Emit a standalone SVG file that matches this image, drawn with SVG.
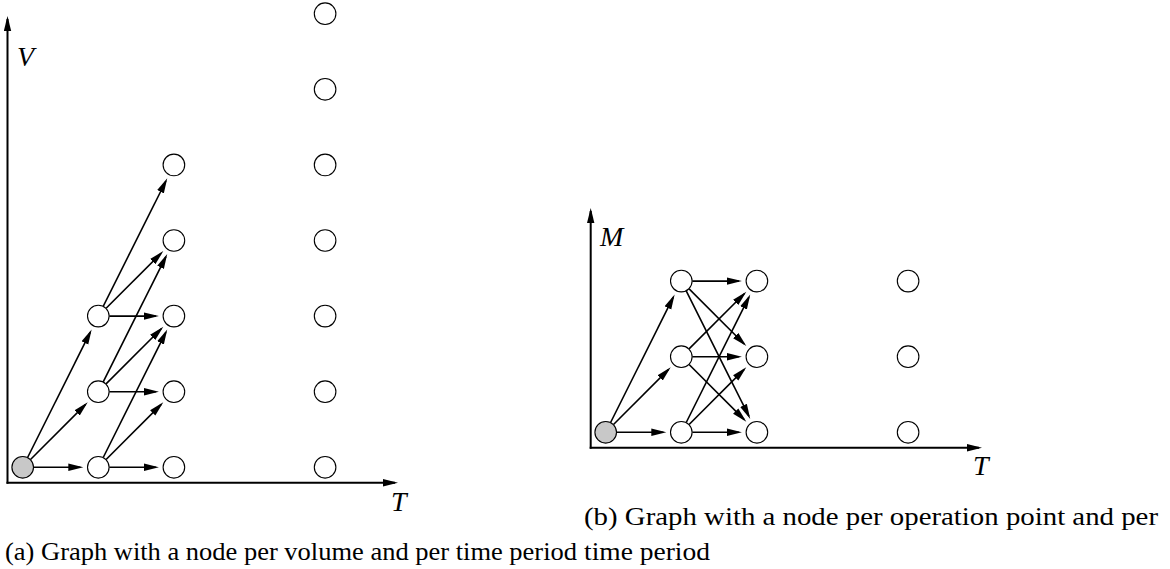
<svg xmlns="http://www.w3.org/2000/svg" width="1170" height="569" viewBox="0 0 1170 569">
<defs>
<style>
.n{fill:#fff;stroke:#000;stroke-width:1.1}
.s{fill:#c8c8c8;stroke:#000;stroke-width:1.1}
.e{stroke:#000;stroke-width:1.6;fill:none;marker-end:url(#ah)}
.axa{stroke:#000;stroke-width:2;fill:none;marker-end:url(#ah)}
</style>
<marker id="ah" markerUnits="userSpaceOnUse" markerWidth="16" markerHeight="8" refX="12" refY="4" orient="auto" viewBox="0 0 16 8">
<path d="M0,0.3 L15,4 L0,7.7 z" fill="#000"/>
</marker>
</defs>
<rect width="1170" height="569" fill="#fff"/>

<g id="axes">
<line class="axa" x1="7.5" y1="483.7" x2="7.5" y2="19"/>
<line class="axa" x1="6.5" y1="482.7" x2="395" y2="482.7"/>
<line class="axa" x1="590.7" y1="448.7" x2="590.7" y2="211"/>
<line class="axa" x1="589.7" y1="447.7" x2="979" y2="447.7"/>
</g>

<g id="connectors">
<line class="e" x1="33.7" y1="467.3" x2="80.3" y2="467.3"/>
<line class="e" x1="30.5" y1="459.5" x2="85.6" y2="404.4"/>
<line class="e" x1="27.6" y1="457.5" x2="90.3" y2="332.2"/>
<line class="e" x1="109.3" y1="467.3" x2="155.9" y2="467.3"/>
<line class="e" x1="106.1" y1="459.5" x2="161.2" y2="404.4"/>
<line class="e" x1="103.2" y1="457.5" x2="165.9" y2="332.2"/>
<line class="e" x1="109.3" y1="391.7" x2="155.9" y2="391.7"/>
<line class="e" x1="106.1" y1="383.9" x2="161.2" y2="328.8"/>
<line class="e" x1="103.2" y1="381.9" x2="165.9" y2="256.6"/>
<line class="e" x1="109.3" y1="316.1" x2="155.9" y2="316.1"/>
<line class="e" x1="106.1" y1="308.3" x2="161.2" y2="253.2"/>
<line class="e" x1="103.2" y1="306.3" x2="165.9" y2="181.0"/>

<line class="e" x1="616.7" y1="432.3" x2="663.3" y2="432.3"/>
<line class="e" x1="613.5" y1="424.5" x2="668.6" y2="369.4"/>
<line class="e" x1="610.6" y1="422.5" x2="673.3" y2="297.2"/>
<line class="e" x1="692.3" y1="432.3" x2="738.9" y2="432.3"/>
<line class="e" x1="689.1" y1="424.5" x2="744.2" y2="369.4"/>
<line class="e" x1="686.2" y1="422.5" x2="748.9" y2="297.2"/>
<line class="e" x1="689.1" y1="364.5" x2="744.2" y2="419.6"/>
<line class="e" x1="692.3" y1="356.7" x2="738.9" y2="356.7"/>
<line class="e" x1="689.1" y1="348.9" x2="744.2" y2="293.8"/>
<line class="e" x1="686.2" y1="290.9" x2="748.9" y2="416.2"/>
<line class="e" x1="689.1" y1="288.9" x2="744.2" y2="344.0"/>
<line class="e" x1="692.3" y1="281.1" x2="738.9" y2="281.1"/>
</g>

<g id="a-start"><circle class="s" cx="22.7" cy="467.3" r="10.8"/></g>
<g id="a-1-0"><circle class="n" cx="98.3" cy="467.3" r="10.8"/></g>
<g id="a-1-1"><circle class="n" cx="98.3" cy="391.7" r="10.8"/></g>
<g id="a-1-2"><circle class="n" cx="98.3" cy="316.1" r="10.8"/></g>
<g id="a-2-0"><circle class="n" cx="173.9" cy="467.3" r="10.8"/></g>
<g id="a-2-1"><circle class="n" cx="173.9" cy="391.7" r="10.8"/></g>
<g id="a-2-2"><circle class="n" cx="173.9" cy="316.1" r="10.8"/></g>
<g id="a-2-3"><circle class="n" cx="173.9" cy="240.5" r="10.8"/></g>
<g id="a-2-4"><circle class="n" cx="173.9" cy="164.9" r="10.8"/></g>
<g id="a-3-0"><circle class="n" cx="325.1" cy="467.3" r="10.8"/></g>
<g id="a-3-1"><circle class="n" cx="325.1" cy="391.7" r="10.8"/></g>
<g id="a-3-2"><circle class="n" cx="325.1" cy="316.1" r="10.8"/></g>
<g id="a-3-3"><circle class="n" cx="325.1" cy="240.5" r="10.8"/></g>
<g id="a-3-4"><circle class="n" cx="325.1" cy="164.9" r="10.8"/></g>
<g id="a-3-5"><circle class="n" cx="325.1" cy="89.3" r="10.8"/></g>
<g id="a-3-6"><circle class="n" cx="325.1" cy="13.7" r="10.8"/></g>

<g id="b-start"><circle class="s" cx="605.7" cy="432.3" r="10.8"/></g>
<g id="b-1-0"><circle class="n" cx="681.3" cy="432.3" r="10.8"/></g>
<g id="b-1-1"><circle class="n" cx="681.3" cy="356.7" r="10.8"/></g>
<g id="b-1-2"><circle class="n" cx="681.3" cy="281.1" r="10.8"/></g>
<g id="b-2-0"><circle class="n" cx="756.9" cy="432.3" r="10.8"/></g>
<g id="b-2-1"><circle class="n" cx="756.9" cy="356.7" r="10.8"/></g>
<g id="b-2-2"><circle class="n" cx="756.9" cy="281.1" r="10.8"/></g>
<g id="b-3-0"><circle class="n" cx="908.1" cy="432.3" r="10.8"/></g>
<g id="b-3-1"><circle class="n" cx="908.1" cy="356.7" r="10.8"/></g>
<g id="b-3-2"><circle class="n" cx="908.1" cy="281.1" r="10.8"/></g>

<g id="labels" font-family="'Liberation Serif','DejaVu Serif','Times New Roman',serif" fill="#000">
<g font-style="italic" font-size="28">
<text x="17" y="66">V</text>
<text x="391" y="511">T</text>
<text x="600" y="246">M</text>
<text x="973" y="475">T</text>
</g>
<g font-size="26">
<text x="5" y="559.5" textLength="572" lengthAdjust="spacingAndGlyphs">(a) Graph with a node per volume and per time period</text>
<text x="584" y="525" textLength="574" lengthAdjust="spacingAndGlyphs">(b) Graph with a node per operation point and per</text>
<text x="584" y="559.5" textLength="126" lengthAdjust="spacingAndGlyphs">time period</text>
</g>
</g>
</svg>
